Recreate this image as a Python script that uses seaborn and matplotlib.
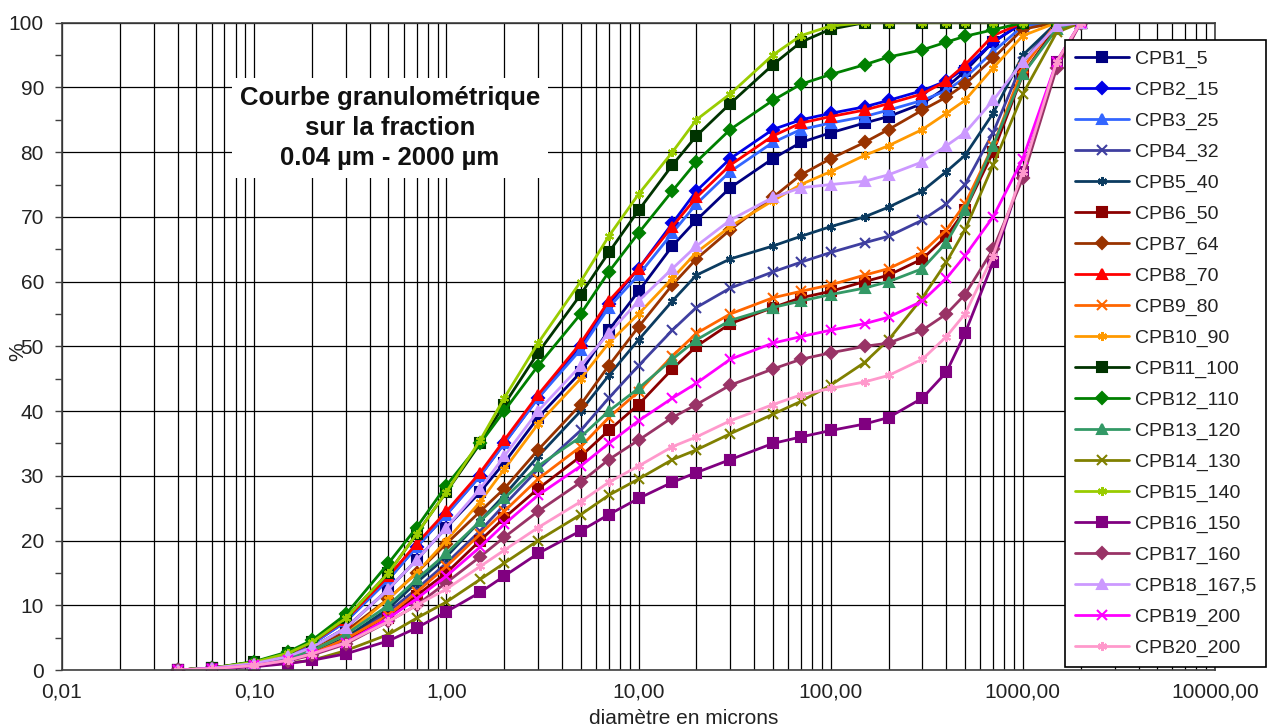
import seaborn as sns
import matplotlib.pyplot as plt
from matplotlib.ticker import FixedLocator, FixedFormatter, LogLocator, MultipleLocator, NullFormatter

# diameters (microns) and cumulative passing (%)
diam = [0.04, 0.06, 0.1, 0.15, 0.2, 0.3, 0.5, 0.7, 1, 1.5, 2, 3, 5, 7, 10,
        15, 20, 30, 50, 70, 100, 150, 200, 300, 400, 500, 700, 1000, 1500, 2000]

cpb1 = [0, 0.3, 1.0, 2.2, 3.5, 6.5, 12.5, 17, 22, 27.5, 32, 39, 46, 52.5, 58.5,
        65.5, 69.5, 74.5, 79, 81.5, 83, 84.5, 85.5, 87.5, 90, 92.5, 97, 100, 100, 100]
cpb2 = [0, 0.3, 1.1, 2.4, 4, 7.5, 14, 19, 24, 30, 35, 42, 50, 56.5, 62,
        69, 74, 79, 83.5, 85, 86, 87, 88, 89.5, 91, 93, 97, 100, 100, 100]
cpb3 = [0, 0.3, 1.1, 2.4, 4, 7.5, 14, 19, 24, 30, 35, 42, 49.5, 56, 61,
        67.5, 72, 77, 81.5, 83.5, 84.5, 85.5, 86.5, 88, 89.5, 91.5, 95.5, 99.5, 100, 100]
cpb4 = [0, 0.3, 0.9, 1.7, 2.5, 4.8, 9, 12.5, 16.5, 21.5, 25.5, 31, 37, 42, 47,
        52.5, 56, 59, 61.5, 63, 64.5, 66, 67, 69.5, 72, 75, 83, 94, 100, 100]
cpb5 = [0, 0.3, 0.9, 1.8, 2.8, 5, 9.5, 13.5, 17.5, 23, 27, 33, 40, 45.5, 51,
        57, 61, 63.5, 65.5, 67, 68.5, 70, 71.5, 74, 77, 79.5, 86, 95, 100, 100]
cpb6 = [0, 0.3, 0.8, 1.6, 2.5, 4.5, 8, 11.5, 15, 20, 23.5, 28, 33, 37, 41,
        46.5, 50, 53.5, 56, 57.5, 58.5, 60, 61, 63.5, 67, 71, 80, 92, 99.5, 100]
cpb7 = [0, 0.3, 1.0, 2.0, 3, 6, 11, 15, 19.5, 24.5, 28, 34, 41, 47, 53,
        59.5, 63.5, 68, 73, 76.5, 79, 81.5, 83.5, 86.5, 88.5, 90.5, 94.5, 99, 100, 100]
cpb8 = [0, 0.3, 1.2, 2.5, 4.2, 7.8, 14.5, 19.5, 24.5, 30.5, 35.5, 42.5, 50.5, 57, 62,
        68.5, 73, 78, 82.5, 84.5, 85.5, 86.5, 87.5, 89, 91, 93.5, 98, 100, 100, 100]
cpb9 = [0, 0.3, 0.8, 1.6, 2.5, 4.8, 8.5, 12, 16, 21, 24.5, 29.5, 34.5, 39, 43,
        48.5, 52, 55, 57.5, 58.5, 59.5, 61, 62, 64.5, 68, 72, 81, 93, 100, 100]
cpb10 = [0, 0.3, 0.9, 1.9, 3, 5.5, 11, 15, 20, 26, 31, 38, 45, 50.5, 55,
         60.5, 64.5, 68.5, 72.5, 75, 77, 79.5, 81, 83.5, 86, 88, 93, 98, 100, 100]
cpb11 = [0, 0.3, 1.2, 2.6, 4.3, 8, 15, 21, 27.5, 35, 41, 49, 58, 64.5, 71,
         78, 82.5, 87.5, 93.5, 97, 99, 100, 100, 100, 100, 100, 100, 100, 100, 100]
cpb12 = [0, 0.3, 1.3, 2.8, 4.6, 8.6, 16.5, 22, 28.5, 35, 40, 47, 55, 61.5, 67.5,
         74, 78.5, 83.5, 88, 90.5, 92, 93.5, 94.7, 95.8, 97, 97.9, 98.9, 100, 100, 100]
cpb13 = [0, 0.3, 0.9, 1.8, 3, 5.5, 10, 14, 18, 23, 26.5, 31.5, 36, 40, 43.5,
         48, 51, 54, 56, 57, 58, 59, 60, 62, 66, 71, 81, 92, 99, 100]
cpb14 = [0, 0.2, 0.6, 1.1, 1.5, 3, 5.5, 8, 10.5, 14, 16.5, 20, 24, 27, 29.5,
         32.5, 34, 36.5, 39.5, 41.5, 44, 47.5, 51, 57.5, 63, 68, 78, 89, 98.5, 100]
cpb15 = [0, 0.3, 1.2, 2.6, 4.3, 8, 15, 21, 27.5, 35.5, 42, 50.5, 60, 67, 73.5,
         80, 85, 89, 95, 98, 99.5, 100, 100, 100, 100, 100, 100, 100, 100, 100]
cpb16 = [0, 0.2, 0.5, 1.0, 1.5, 2.5, 4.5, 6.5, 9, 12, 14.5, 18, 21.5, 24, 26.5,
         29, 30.5, 32.5, 35, 36, 37, 38, 39, 42, 46, 52, 63, 77, 94, 100]
cpb17 = [0, 0.2, 0.7, 1.4, 2.3, 4, 7.5, 10, 13.5, 17.5, 20.5, 24.5, 29, 32.5, 35.5,
         39, 41, 44, 46.5, 48, 49, 50, 50.5, 52.5, 55, 58, 65, 76, 93, 100]
cpb18 = [0, 0.3, 1.0, 2.1, 3.5, 6.5, 12.5, 17, 22, 28, 33, 40, 47, 52, 57,
         62, 65.5, 69.5, 73, 74.5, 75, 75.5, 76.5, 78.5, 81, 83, 88, 94, 99.5, 100]
cpb19 = [0, 0.2, 0.7, 1.5, 2.5, 4.2, 8, 11, 14.5, 19, 22.5, 27, 31.5, 35, 38.5,
         42, 44.3, 48, 50.5, 51.5, 52.5, 53.5, 54.5, 57, 60.5, 64, 70, 79, 94, 100]
cpb20 = [0, 0.2, 0.7, 1.5, 2.5, 4.2, 7.5, 10, 12.5, 16, 18.5, 22, 26, 29, 31.5,
         34.5, 36, 38.5, 41, 42.5, 43.5, 44.5, 45.5, 48, 51.5, 55, 64, 77, 94, 100]

names = ["CPB1_5", "CPB2_15", "CPB3_25", "CPB4_32", "CPB5_40", "CPB6_50", "CPB7_64",
         "CPB8_70", "CPB9_80", "CPB10_90", "CPB11_100", "CPB12_110", "CPB13_120",
         "CPB14_130", "CPB15_140", "CPB16_150", "CPB17_160", "CPB18_167,5",
         "CPB19_200", "CPB20_200"]
series = [cpb1, cpb2, cpb3, cpb4, cpb5, cpb6, cpb7, cpb8, cpb9, cpb10,
          cpb11, cpb12, cpb13, cpb14, cpb15, cpb16, cpb17, cpb18, cpb19, cpb20]
colors = ["#000080", "#0000E6", "#3366FF", "#3F3FA0", "#0B3B60",
          "#8B0000", "#993300", "#FF0000", "#FF6600", "#FF9900",
          "#003300", "#008000", "#339966", "#808000", "#99CC00",
          "#800080", "#993366", "#CC99FF", "#FF00FF", "#FF99CC"]
star = (6, 2, 0)
markers = ["s", "D", "^", "x", star] * 4

xticks = [0.01, 0.1, 1, 10, 100, 1000, 10000]
xtick_labels = ["0,01", "0,10", "1,00", "10,00", "100,00", "1000,00", "10000,00"]

sns.set_theme(style="white")
plt.rcParams['font.family'] = ['Liberation Sans', 'DejaVu Sans']

fig = plt.figure(figsize=(12.71, 7.26), dpi=100)
ax = fig.add_axes([62 / 1271, 56 / 726, 1153 / 1271, 647.3 / 726])

for name, vals, col, mk in zip(names, series, colors, markers):
    sns.lineplot(x=diam, y=vals, ax=ax, color=col, marker=mk, markersize=6.5,
                 linewidth=2.0, markeredgecolor=col, markeredgewidth=1.5,
                 label=name, sort=False)

ax.set_xscale('log')
ax.set_xlim(0.01, 10000)
ax.set_ylim(0, 100)
ax.xaxis.set_major_locator(FixedLocator(xticks))
ax.xaxis.set_major_formatter(FixedFormatter(xtick_labels))
ax.xaxis.set_minor_locator(LogLocator(base=10, subs=range(2, 10), numticks=20))
ax.xaxis.set_minor_formatter(NullFormatter())
ax.yaxis.set_major_locator(MultipleLocator(10))
ax.yaxis.set_minor_locator(MultipleLocator(5))

ax.grid(True, axis='x', which='both', color='black', linewidth=0.9)
ax.grid(True, axis='y', which='major', color='black', linewidth=0.9)
ax.set_axisbelow(True)
ax.tick_params(axis='x', which='both', length=0, pad=9, labelsize=15, labelcolor='#222222')
ax.tick_params(axis='y', which='both', length=5, width=1, direction='out', left=True,
               pad=8, labelsize=15, labelcolor='#222222', color='#404040')
for side, sp in ax.spines.items():
    sp.set_color('#404040')
    sp.set_linewidth(1.2)
ax.set_xlabel('')
ax.set_ylabel('')

leg = ax.legend(loc='upper left', bbox_to_anchor=(1065 / 1271, 1 - 40 / 726),
                bbox_transform=fig.transFigure, frameon=True, fancybox=False,
                edgecolor='black', facecolor='white', framealpha=1, fontsize=14,
                labelspacing=0.68, handlelength=2.8, handletextpad=0.3,
                borderpad=0.5, borderaxespad=0)
leg.get_frame().set_linewidth(1.2)
for t in leg.get_texts():
    t.set_color('#222222')

fig.text(390 / 1271, 1 - 128 / 726,
         "Courbe granulométrique\nsur la fraction\n0.04 µm - 2000 µm",
         ha='center', va='center', fontsize=18.5, fontweight='bold', linespacing=1.3,
         color='#111111', bbox=dict(facecolor='white', edgecolor='none', pad=6))
fig.text(684 / 1271, 1 - 718 / 726, 'diamètre en microns', ha='center', va='center',
         fontsize=15, color='#222222')
fig.text(18 / 1271, 1 - 352 / 726, '%', rotation=90, ha='center', va='center',
         fontsize=15, color='#222222')

fig.savefig('out.png', dpi=100)
